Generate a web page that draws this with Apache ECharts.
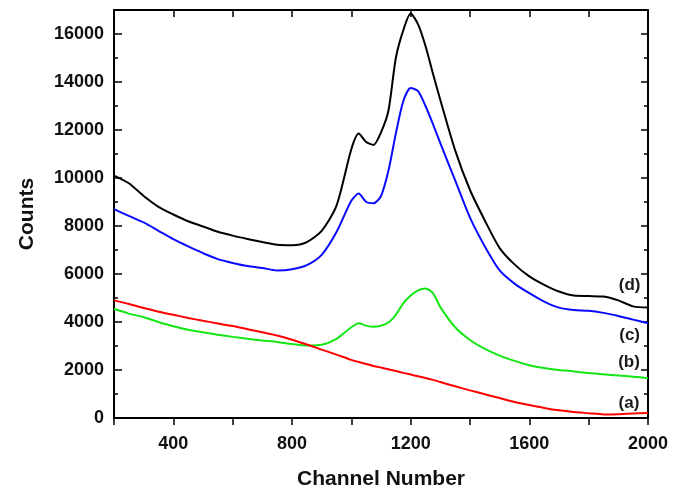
<!DOCTYPE html>
<html>
<head>
<meta charset="utf-8">
<title>Counts vs Channel Number</title>
<script src="https://cdn.jsdelivr.net/npm/echarts@6/dist/echarts.min.js"></script>
<style>
  html, body { margin: 0; padding: 0; background: #fff; }
  #chart { width: 683px; height: 490px; }
</style>
</head>
<body>
<div id="chart"></div>
<script>
// channel numbers shared by all four spectra
const channels = [200, 250, 300, 350, 400, 450, 500, 550, 600, 650, 700, 750, 800, 850, 900, 950,
  1000, 1025, 1050, 1075, 1100, 1125, 1150, 1175, 1200, 1225, 1250, 1275, 1300,
  1350, 1400, 1450, 1500, 1550, 1600, 1650, 1700, 1750, 1800, 1850, 1900, 1950, 2000]

// (a) red
const countsA = [4900, 4750, 4580, 4430, 4300, 4170, 4050, 3940, 3830, 3700, 3570, 3440, 3260, 3060, 2850, 2640,
  2420, 2330, 2250, 2170, 2100, 2030, 1960, 1880, 1810, 1740, 1670, 1590, 1500,
  1320, 1150, 990, 830, 670, 540, 420, 320, 250, 200, 150, 160, 190, 210]
// (b) green
const countsB = [4550, 4350, 4200, 4000, 3820, 3680, 3570, 3470, 3380, 3300, 3230, 3170, 3080, 3020, 3050, 3300,
  3780, 3950, 3850, 3800, 3850, 3980, 4300, 4780, 5100, 5320, 5400, 5200, 4620,
  3780, 3250, 2880, 2600, 2380, 2200, 2080, 2000, 1940, 1870, 1820, 1770, 1720, 1660]
// (c) blue
const countsC = [8700, 8420, 8150, 7800, 7450, 7150, 6870, 6620, 6460, 6330, 6250, 6150, 6200, 6370, 6800, 7750,
  9050, 9350, 9000, 8950, 9250, 10300, 11850, 13200, 13750, 13620, 13000, 12250, 11450,
  9900, 8350, 7150, 6150, 5600, 5200, 4850, 4600, 4500, 4470, 4380, 4250, 4100, 3950]
// (d) black
const countsD = [10100, 9780, 9250, 8800, 8480, 8200, 7980, 7760, 7600, 7460, 7330, 7220, 7200, 7330, 7800, 8850,
  11200, 11850, 11500, 11380, 11900, 12800, 15000, 16150, 16850, 16400, 15500, 14350, 13250,
  11150, 9500, 8230, 7080, 6400, 5900, 5550, 5270, 5100, 5080, 5060, 4900, 4650, 4600]

const curveNames = ['(a)', '(b)', '(c)', '(d)']

const FONT = "'Liberation Sans', Arial, sans-serif"

function pairs(ys) {
  return channels.map((x, i) => [x, ys[i]])
}

// text tag next to the right end of a curve
function tag(text, x, y) {
  return {
    symbol: 'circle',
    symbolSize: 0,
    silent: true,
    label: {
      show: true,
      position: 'inside',
      formatter: text,
      color: '#1a1a1a',
      fontFamily: FONT,
      fontWeight: 'bold',
      fontSize: 17
    },
    data: [{ coord: [x, y] }]
  }
}

function curve(name, ys, color, tagPos) {
  return {
    name: name,
    type: 'line',
    data: pairs(ys),
    showSymbol: false,
    smooth: 0.25,
    lineStyle: { color: color, width: 2 },
    itemStyle: { color: color },
    markPoint: tag(name, tagPos[0], tagPos[1]),
    z: 3
  }
}

const chart = echarts.init(document.getElementById('chart'))
chart.setOption({
  animation: false,
  backgroundColor: '#fff',
  grid: { left: 114, right: 35, top: 10, bottom: 72, outerBoundsMode: 'none', containLabel: false },
  xAxis: [{
    type: 'value',
    min: 200,
    max: 2000,
    interval: 200,
    name: 'Channel Number',
    nameLocation: 'middle',
    nameGap: 51,
    nameTextStyle: { fontFamily: FONT, fontWeight: 'bold', fontSize: 21, color: '#111' },
    axisLine: { onZero: false, lineStyle: { color: '#000', width: 2 } },
    axisTick: { inside: false, length: 7, lineStyle: { color: '#000', width: 1.5 } },
    axisLabel: {
      margin: 17,
      fontFamily: FONT,
      fontWeight: 'bold',
      fontSize: 18,
      color: '#111',
      formatter: v => (v % 400 === 0 ? v : '')
    },
    splitLine: { show: false }
  }, {
    type: 'value',
    position: 'top',
    min: 200,
    max: 2000,
    interval: 200,
    axisLine: { onZero: false, lineStyle: { color: '#000', width: 2 } },
    axisTick: { inside: true, length: 7, lineStyle: { color: '#000', width: 1.5 } },
    axisLabel: { show: false },
    splitLine: { show: false }
  }],
  yAxis: [{
    type: 'value',
    min: 0,
    max: 17000,
    interval: 2000,
    name: 'Counts',
    nameLocation: 'middle',
    nameRotate: 90,
    nameGap: 76,
    nameTextStyle: { fontFamily: FONT, fontWeight: 'bold', fontSize: 21, color: '#111' },
    axisLine: { show: true, onZero: false, lineStyle: { color: '#000', width: 2 } },
    axisTick: { show: true, inside: true, length: 8, lineStyle: { color: '#000', width: 1.5 } },
    minorTick: { show: true, splitNumber: 2, length: 4, lineStyle: { color: '#000', width: 1.5 } },
    axisLabel: {
      margin: 10,
      fontFamily: FONT,
      fontWeight: 'bold',
      fontSize: 18,
      color: '#111',
      formatter: v => (v % 2000 === 0 ? v : '')
    },
    splitLine: { show: false }
  }, {
    type: 'value',
    position: 'right',
    min: 0,
    max: 17000,
    interval: 2000,
    axisLine: { show: true, onZero: false, lineStyle: { color: '#000', width: 2 } },
    axisTick: { show: true, inside: true, length: 7, lineStyle: { color: '#000', width: 1.5 } },
    minorTick: { show: true, splitNumber: 2, length: 4, lineStyle: { color: '#000', width: 1.5 } },
    axisLabel: { show: false },
    splitLine: { show: false }
  }],
  series: [
    curve(curveNames[1], countsB, '#14e614', [1936, 2330]),
    curve(curveNames[0], countsA, '#ff0000', [1936, 620]),
    curve(curveNames[2], countsC, '#0a0aff', [1938, 3450]),
    curve(curveNames[3], countsD, '#000000', [1938, 5530])
  ]
})
</script>
</body>
</html>
